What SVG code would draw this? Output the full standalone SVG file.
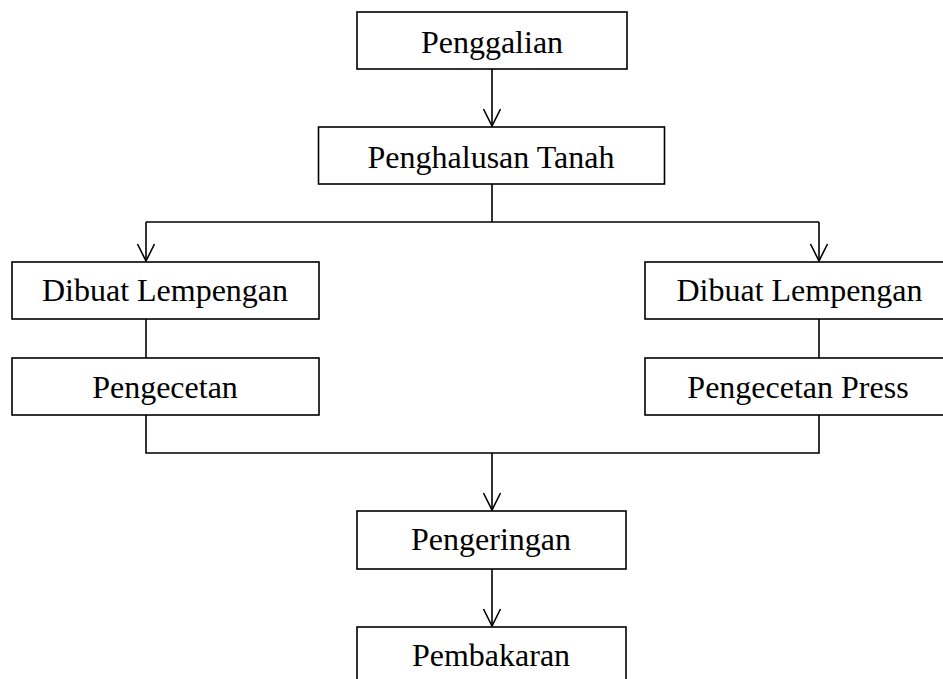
<svg xmlns="http://www.w3.org/2000/svg" width="943" height="679" viewBox="0 0 943 679">
<defs>
<style>
.box{fill:#fff;stroke:#000;stroke-width:1.6}
.lbl{font-family:"Liberation Serif","Times New Roman",serif;font-size:32px;fill:#000;text-anchor:middle}
.con{fill:none;stroke:#000;stroke-width:1.6}
</style>
<marker id="arr" markerUnits="userSpaceOnUse" markerWidth="24" markerHeight="24" viewBox="-20 -12 24 24" refX="0" refY="0" orient="auto">
<path d="M-17,-8.5 L0,0 L-17,8.5" fill="none" stroke="#000" stroke-width="1.6"/>
</marker>
</defs>
<rect width="943" height="679" fill="#fff"/>
<g id="connectors">
<path class="con" d="M492,69 V126" marker-end="url(#arr)"/>
<path class="con" d="M492,184 V222"/>
<path class="con" d="M146,222 H819"/>
<path class="con" d="M146,222 V261" marker-end="url(#arr)"/>
<path class="con" d="M819,222 V261" marker-end="url(#arr)"/>
<path class="con" d="M146,319 V358"/>
<path class="con" d="M819,319 V358"/>
<path class="con" d="M146,415 V453 H819 V415"/>
<path class="con" d="M492,453 V510" marker-end="url(#arr)"/>
<path class="con" d="M492,569 V626" marker-end="url(#arr)"/>
</g>
<g id="penggalian">
<rect class="box" x="357" y="12" width="270" height="57"/>
<text class="lbl" x="492" y="52.5">Penggalian</text>
</g>
<g id="penghalusan">
<rect class="box" x="318.5" y="127" width="346" height="57"/>
<text class="lbl" x="491" y="167.5">Penghalusan Tanah</text>
</g>
<g id="lempengan-kiri">
<rect class="box" x="12" y="262" width="307" height="57"/>
<text class="lbl" x="165" y="300.5">Dibuat Lempengan</text>
</g>
<g id="pengecetan">
<rect class="box" x="12" y="358" width="307" height="57"/>
<text class="lbl" x="165" y="397.5">Pengecetan</text>
</g>
<g id="lempengan-kanan">
<rect class="box" x="645" y="262" width="309" height="57"/>
<text class="lbl" x="799.5" y="300.5">Dibuat Lempengan</text>
</g>
<g id="pengecetan-press">
<rect class="box" x="645" y="358" width="309" height="57"/>
<text class="lbl" x="798" y="397.5">Pengecetan Press</text>
</g>
<g id="pengeringan">
<rect class="box" x="357" y="511" width="269" height="58"/>
<text class="lbl" x="491" y="550">Pengeringan</text>
</g>
<g id="pembakaran">
<rect class="box" x="357" y="627" width="269" height="60"/>
<text class="lbl" x="491" y="666">Pembakaran</text>
</g>
</svg>
